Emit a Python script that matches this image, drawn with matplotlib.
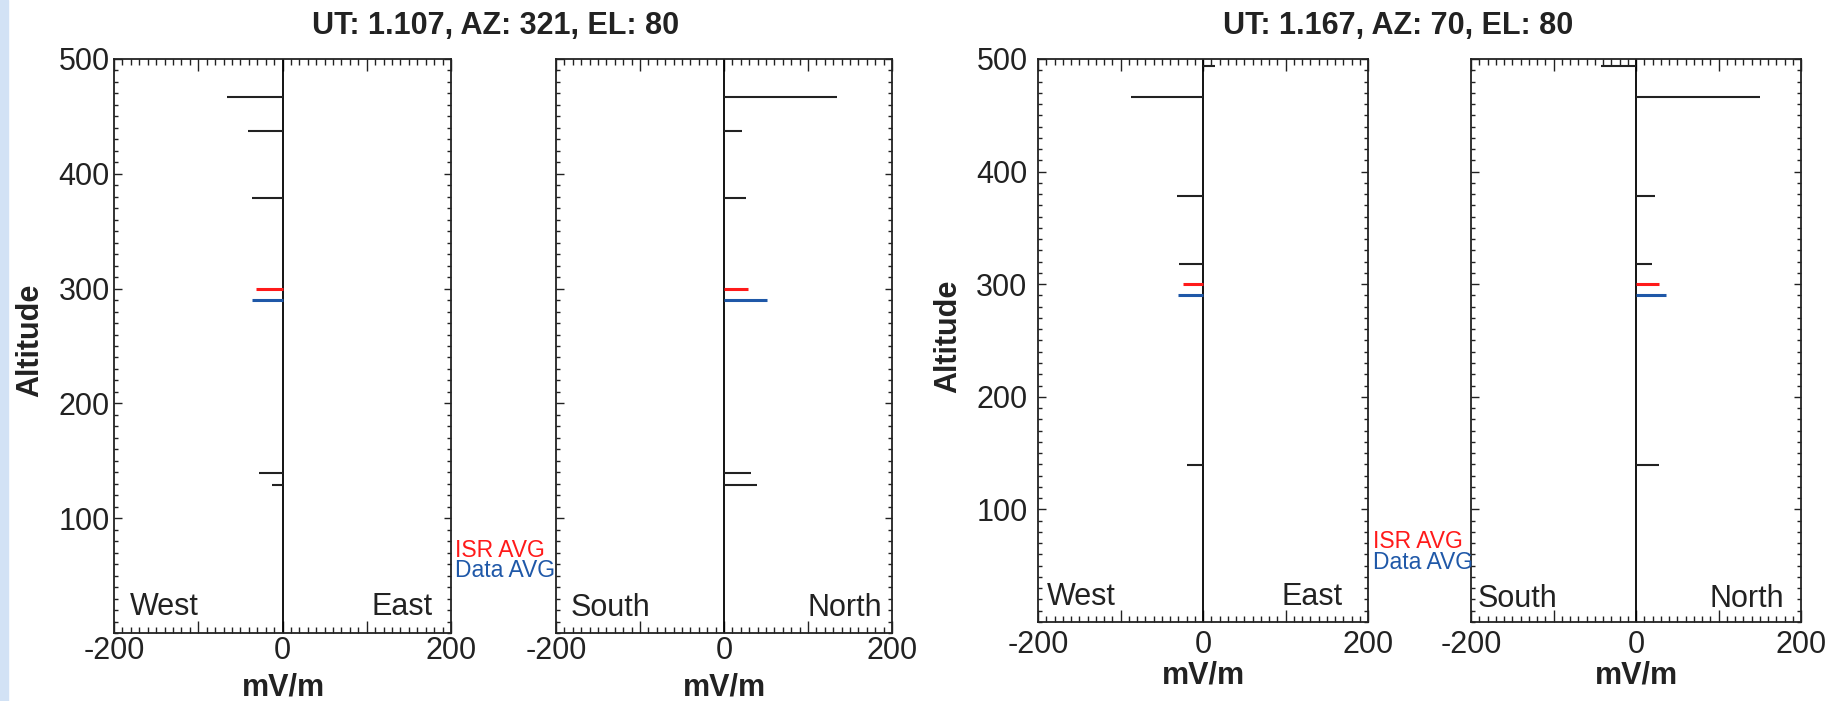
import matplotlib
matplotlib.use("Agg")
import matplotlib.pyplot as plt
from matplotlib.ticker import MultipleLocator, FixedLocator
from matplotlib.patches import Rectangle

plt.rcParams['font.family'] = ['Liberation Sans', 'DejaVu Sans']

# ---------------- data ----------------
titles = ["UT: 1.107, AZ: 321, EL: 80", "UT: 1.167, AZ: 70, EL: 80"]

# group 1 (UT 1.107)
g1_alt = [467, 437, 379, 139, 129]
g1_we = [-66, -41, -36, -28, -12]
g1_sn = [134, 21, 26, 32, 39]
g1_isr_we, g1_data_we = -31, -36
g1_isr_sn, g1_data_sn = 29, 51

# group 2 (UT 1.167)
g2_alt = [494, 466, 378, 318, 139]
g2_we = [14, -87, -32, -29, -20]
g2_sn = [-43, 150, 23, 19, 28]
g2_isr_we, g2_data_we = -24, -30
g2_isr_sn, g2_data_sn = 28, 36

isr_alt, data_alt = 300, 290
xtick_vals = [-200, -100, 0, 100, 200]
xtick_labels = ['-200', '', '0', '', '200']
yticks = [100, 200, 300, 400, 500]

W, H = 1825, 701
fig = plt.figure(figsize=(W / 100, H / 100), dpi=100)
fig.patches.append(Rectangle((0, 0), 8 / W, 1, transform=fig.transFigure,
                             color='#d2e2f5', zorder=0))

RED = '#ff1a1a'
BLUE = '#1f58a8'
INK = '#222222'


def rect(x0, x1, y0, y1):
    return [x0 / W, 1 - y1 / H, (x1 - x0) / W, (y1 - y0) / H]


def make_panel(r, alt, vals, isr, dat, labels, lpos, show_y, ypad, xpad):
    ax = fig.add_axes(r)
    ax.set_xlim(-200, 200)
    ax.set_ylim(0, 500)
    ax.axvline(0, color='black', lw=1.3, zorder=2)
    ax.hlines(alt, 0, vals, color=INK, lw=1.5, zorder=3)
    ax.hlines([isr_alt], 0, [isr], color=RED, lw=2.2, zorder=4)
    ax.hlines([data_alt], 0, [dat], color=BLUE, lw=2.2, zorder=4)
    ax.xaxis.set_major_locator(FixedLocator(xtick_vals))
    ax.set_xticklabels(xtick_labels)
    ax.xaxis.set_minor_locator(MultipleLocator(10))
    ax.yaxis.set_major_locator(FixedLocator(yticks))
    ax.yaxis.set_minor_locator(MultipleLocator(10))
    ax.tick_params(axis='both', which='both', direction='in', top=True,
                   right=True, width=1.0, colors=INK, labelcolor=INK,
                   labelsize=22)
    ax.tick_params(axis='x', which='major', length=8.6, pad=xpad)
    ax.tick_params(axis='x', which='minor', length=4.0)
    ax.tick_params(axis='y', which='major', length=5.4, pad=ypad)
    ax.tick_params(axis='y', which='minor', length=2.6)
    if not show_y:
        ax.set_yticklabels([])
    for s in ax.spines.values():
        s.set_linewidth(1.3)
        s.set_color(INK)
    (lx, ly), (rx, ry) = lpos
    ax.text(lx, ly, labels[0], transform=ax.transAxes, ha='left',
            va='baseline', fontsize=22, color=INK)
    ax.text(rx, ry, labels[1], transform=ax.transAxes, ha='right',
            va='baseline', fontsize=22, color=INK)
    return ax


make_panel(rect(114, 451, 59, 633), g1_alt, g1_we, g1_isr_we, g1_data_we,
           ("West", "East"), ((0.047, 0.031), (0.944, 0.031)), True, 3.0, 2.5)
make_panel(rect(556, 892, 59, 633), g1_alt, g1_sn, g1_isr_sn, g1_data_sn,
           ("South", "North"), ((0.042, 0.030), (0.970, 0.030)), False, 3.0, 2.5)
make_panel(rect(1038, 1368, 59, 622), g2_alt, g2_we, g2_isr_we, g2_data_we,
           ("West", "East"), ((0.027, 0.030), (0.924, 0.030)), True, 7.5, 5.5)
make_panel(rect(1471, 1801, 59, 622), g2_alt, g2_sn, g2_isr_sn, g2_data_sn,
           ("South", "North"), ((0.021, 0.027), (0.948, 0.027)), False, 7.5, 5.5)

# titles
fig.text(496 / W, 1 - 26 / H, titles[0], ha='center', va='center',
         fontsize=22, fontweight='bold', color=INK)
fig.text(1398 / W, 1 - 26 / H, titles[1], ha='center', va='center',
         fontsize=22, fontweight='bold', color=INK)

# y labels
fig.text(30 / W, 1 - 340 / H, "Altitude", rotation=90, ha='center',
         va='center', fontsize=22, fontweight='bold', color=INK)
fig.text(948 / W, 1 - 336 / H, "Altitude", rotation=90, ha='center',
         va='center', fontsize=22, fontweight='bold', color=INK)

# x labels
for xc, yb in [(283, 695), (724, 696), (1203, 683), (1636, 683)]:
    fig.text(xc / W, 1 - yb / H, "mV/m", ha='center', va='baseline',
             fontsize=22, fontweight='bold', color=INK)

# legend texts
for x0, yb1, yb2 in [(455, 557, 577), (1373, 548, 569)]:
    fig.text(x0 / W, 1 - yb1 / H, "ISR AVG", ha='left', va='baseline',
             fontsize=16.5, color=RED)
    fig.text(x0 / W, 1 - yb2 / H, "Data AVG", ha='left', va='baseline',
             fontsize=16.5, color=BLUE)

fig.savefig("out.png", dpi=100)
